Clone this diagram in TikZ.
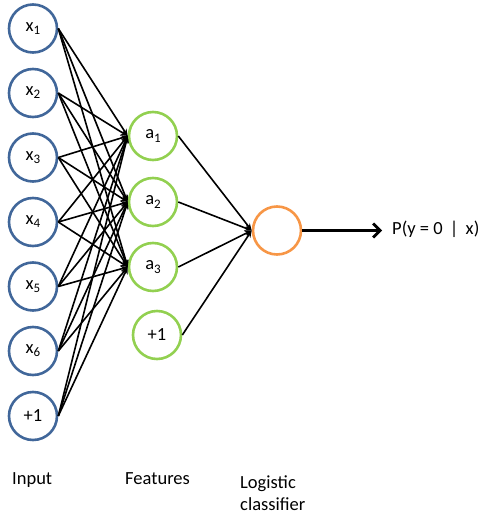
\documentclass[tikz,border=0pt]{standalone}
\usepackage{fontspec}
\setmainfont{Carlito}
\usetikzlibrary{arrows.meta}
\definecolor{inblue}{HTML}{41679A}
\definecolor{fgreen}{HTML}{92D050}
\definecolor{lorange}{HTML}{F79646}
\newcommand{\sbs}[1]{\raisebox{-0.35ex}{\fontsize{13}{13}\selectfont #1}}
\begin{document}
\begin{tikzpicture}[x=1pt,y=-1pt,
  font=\fontsize{18.5}{22}\selectfont,
  unit/.style={circle,line width=2.6pt,minimum size=48pt,inner sep=0pt},
  inunit/.style={unit,draw=inblue},
  feunit/.style={unit,draw=fgreen},
  outunit/.style={unit,draw=lorange},
  link/.style={line width=1.6pt,-{Stealth[length=7pt,width=6pt]}},
  outlink/.style={line width=2.8pt,-{Straight Barb[length=7pt,width=14pt,line width=2.8pt]}},
  lab/.style={anchor=north west,inner sep=0pt,align=left}]
\useasboundingbox (0,0) rectangle (500,525);
% input units
\node[inunit] (x1) at (33,28.5) {x\sbs{1}};
\node[inunit] (x2) at (33,93) {x\sbs{2}};
\node[inunit] (x3) at (33,157.5) {x\sbs{3}};
\node[inunit] (x4) at (33,222) {x\sbs{4}};
\node[inunit] (x5) at (33,286.5) {x\sbs{5}};
\node[inunit] (x6) at (33,351) {x\sbs{6}};
\node[inunit] (xb) at (33,416) {+1};
% feature units
\node[feunit] (a1) at (153,136) {a\sbs{1}};
\node[feunit] (a2) at (153,202) {a\sbs{2}};
\node[feunit] (a3) at (153,267) {a\sbs{3}};
\node[feunit] (ab) at (157,335) {+1};
% output unit
\node[outunit] (o) at (277,230.5) {};
\node[anchor=west,inner ysep=0pt,inner xsep=10pt] (p) at (382,229) {P(y = 0 \,|\, x)};
% connections
\foreach \s in {x1,x2,x3,x4,x5,x6,xb}{
  \foreach \t in {a1,a2,a3}{
    \draw[link] (\s.east) -- (\t.west);
  }
}
\foreach \s in {a1,a2,a3,ab}{
  \draw[link] (\s.east) -- (o.west);
}
\draw[outlink] (o.east) -- (o.east -| p.west);
% labels
\node[lab] (li) at (12,472) {Input};
\node[lab] (lf) at (125,472) {Features};
\node[lab] (ll) at (240,476) {Logistic\\classifier};
\end{tikzpicture}
\end{document}
